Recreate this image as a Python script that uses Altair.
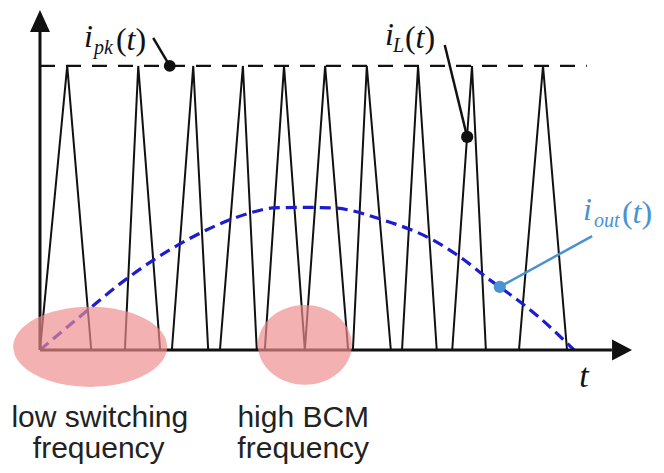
import altair as alt
import pandas as pd

# ---------------- data ----------------
# inductor-current triangles (time in ms, current normalised to i_pk)
tri_start = [0.00, 1.59, 2.47, 3.37, 4.21, 4.96, 5.86, 6.78, 7.72, 8.97]
tri_peak = [0.51, 1.84, 2.87, 3.80, 4.57, 5.34, 6.12, 7.08, 8.09, 9.42]
tri_end = [0.96, 2.25, 3.15, 4.06, 4.96, 5.77, 6.57, 7.43, 8.35, 9.87]
i_pk = 1.0
pk_line_end = 10.24

# output current i_out(t)
iout_t = [0.00, 0.90, 1.59, 2.75, 3.93, 4.36, 4.92, 5.49, 6.42, 7.36, 7.87, 8.43, 8.61, 9.36, 10.00]
iout_v = [0.000, 0.141, 0.246, 0.387, 0.482, 0.500, 0.502, 0.500, 0.458, 0.387, 0.327, 0.246, 0.222, 0.113, 0.000]

# labels
bottom_text = ["low switching", "frequency", "high BCM", "frequency"]

# ---------------- layout ----------------
W, H = 648, 457
X_DOM = [-0.599, 11.536]
Y_DOM = [-0.405, 1.204]
xs = alt.Scale(domain=X_DOM, nice=False, zero=False)
ys = alt.Scale(domain=Y_DOM, nice=False, zero=False)

def X(f="x"):
    return alt.X(f"{f}:Q", scale=xs, axis=None)

def Y(f="y"):
    return alt.Y(f"{f}:Q", scale=ys, axis=None)

BLACK = "#111111"
BLUE = "#1c1cd0"
LBLUE = "#4a92d2"
PINK = "#ee8c8e"
SERIF = "Liberation Serif"
SANS = "Liberation Sans"

# triangles
rows = []
for k, (a, p, b) in enumerate(zip(tri_start, tri_peak, tri_end)):
    rows += [dict(id=k, o=0, x=a, y=0.0), dict(id=k, o=1, x=p, y=i_pk), dict(id=k, o=2, x=b, y=0.0)]
tri_df = pd.DataFrame(rows)
tri = alt.Chart(tri_df).mark_line(color=BLACK, strokeWidth=2, strokeJoin="miter").encode(
    x=X(), y=Y(), detail="id:N", order="o:Q")

# i_pk dashed level
pk_df = pd.DataFrame([dict(x=0.0, x2=pk_line_end, y=i_pk)])
pk = alt.Chart(pk_df).mark_rule(color=BLACK, strokeWidth=2.2, strokeDash=[15, 11]).encode(
    x=X(), x2="x2:Q", y=Y())

# i_out curve
iout_df = pd.DataFrame(dict(x=iout_t, y=iout_v))
iout = alt.Chart(iout_df).mark_line(color=BLUE, strokeWidth=3.2, strokeDash=[11, 6],
                                    interpolate="monotone").encode(x=X(), y=Y())

# axes
ax_df = pd.DataFrame([dict(x=0.0, x2=0.0, y=0.0, y2=1.12), dict(x=0.0, x2=10.71, y=0.0, y2=0.0)])
axes = alt.Chart(ax_df).mark_rule(color=BLACK, strokeWidth=3).encode(x=X(), x2="x2:Q", y=Y(), y2="y2:Q")
arr_df = pd.DataFrame([
    dict(x=0.0, y=1.158, shape="M0,-1L-0.91,1L0.91,1Z", size=484),
    dict(x=10.90, y=0.0, shape="M1,0L-1,-1.05L-1,1.05Z", size=400),
])
arrows = alt.Chart(arr_df).mark_point(filled=True, color=BLACK, opacity=1, strokeWidth=0).encode(
    x=X(), y=Y(), shape=alt.Shape("shape:N", scale=None), size=alt.Size("size:Q", scale=None))

# pointers
ptr_df = pd.DataFrame([
    dict(x=2.12, y=1.099, x2=2.43, y2=1.0, c=BLACK),
    dict(x=7.58, y=1.074, x2=8.00, y2=0.75, c=BLACK),
    dict(x=10.34, y=0.401, x2=8.61, y2=0.222, c=LBLUE),
])
ptrs = alt.Chart(ptr_df).mark_rule(strokeWidth=2.5).encode(
    x=X(), y=Y(), x2="x2:Q", y2="y2:Q", color=alt.Color("c:N", scale=None))
dot_df = pd.DataFrame([
    dict(x=2.43, y=1.0, c=BLACK, s=140),
    dict(x=8.00, y=0.75, c=BLACK, s=150),
    dict(x=8.61, y=0.222, c=LBLUE, s=150),
])
dots = alt.Chart(dot_df).mark_circle(opacity=1).encode(
    x=X(), y=Y(), color=alt.Color("c:N", scale=None), size=alt.Size("s:Q", scale=None))

# pink ellipses
ell_df = pd.DataFrame([
    dict(x=0.94, y=0.011, shape="M-1,0A1,0.52,0,1,0,1,0A1,0.52,0,1,0,-1,0Z", size=23716),
    dict(x=4.96, y=0.018, shape="M-1,0A1,0.85,0,1,0,1,0A1,0.85,0,1,0,-1,0Z", size=8836),
])
ell = alt.Chart(ell_df).mark_point(filled=True, color=PINK, opacity=0.68, strokeWidth=0).encode(
    x=X(), y=Y(), shape=alt.Shape("shape:N", scale=None), size=alt.Size("size:Q", scale=None))

# math labels: italic pieces, subscripts, upright parentheses
it_df = pd.DataFrame([
    dict(x=0.824, y=1.067, t="i", c=BLACK), dict(x=1.620, y=1.056, t="t", c=BLACK),
    dict(x=6.461, y=1.074, t="i", c=BLACK), dict(x=7.032, y=1.063, t="t", c=BLACK),
    dict(x=10.169, y=0.458, t="i", c=LBLUE), dict(x=11.096, y=0.447, t="t", c=LBLUE),
])
sub_df = pd.DataFrame([
    dict(x=1.011, y=1.042, t="pk", c=BLACK),
    dict(x=6.610, y=1.049, t="L", c=BLACK),
    dict(x=10.375, y=0.433, t="out", c=LBLUE),
])
par_df = pd.DataFrame([
    dict(x=1.423, y=1.056, t="(", c=BLACK), dict(x=1.788, y=1.056, t=")", c=BLACK),
    dict(x=6.835, y=1.063, t="(", c=BLACK), dict(x=7.200, y=1.063, t=")", c=BLACK),
    dict(x=10.899, y=0.447, t="(", c=LBLUE), dict(x=11.264, y=0.447, t=")", c=LBLUE),
])
txt_it = alt.Chart(it_df).mark_text(font=SERIF, fontSize=32, fontStyle="italic", align="left",
                                    baseline="alphabetic").encode(
    x=X(), y=Y(), text="t:N", color=alt.Color("c:N", scale=None))
txt_sub = alt.Chart(sub_df).mark_text(font=SERIF, fontSize=20, fontStyle="italic", align="left",
                                      baseline="alphabetic").encode(
    x=X(), y=Y(), text="t:N", color=alt.Color("c:N", scale=None))
txt_par = alt.Chart(par_df).mark_text(font=SERIF, fontSize=32, align="left",
                                      baseline="alphabetic").encode(
    x=X(), y=Y(), text="t:N", color=alt.Color("c:N", scale=None))

tlab_df = pd.DataFrame([dict(x=10.187, y=-0.130, t="t")])
tlab = alt.Chart(tlab_df).mark_text(font=SERIF, fontSize=34, fontStyle="italic", align="center",
                                    baseline="alphabetic", color=BLACK).encode(x=X(), y=Y(), text="t:N")

bot_df = pd.DataFrame(dict(x=[1.12, 1.10, 4.93, 4.93], y=[-0.271, -0.382, -0.271, -0.382], t=bottom_text))
bot = alt.Chart(bot_df).mark_text(font=SANS, fontSize=30, align="center", baseline="alphabetic",
                                  color="#222222").encode(x=X(), y=Y(), text="t:N")

chart = alt.layer(pk, tri, iout, axes, arrows, ptrs, dots, ell, txt_it, txt_sub, txt_par, tlab, bot).properties(
    width=W, height=H, padding=0, autosize=alt.AutoSizeParams(type="none"), background="white"
).configure_view(stroke=None)

chart.save("out.html", embed_options={"renderer": "svg", "actions": False})
